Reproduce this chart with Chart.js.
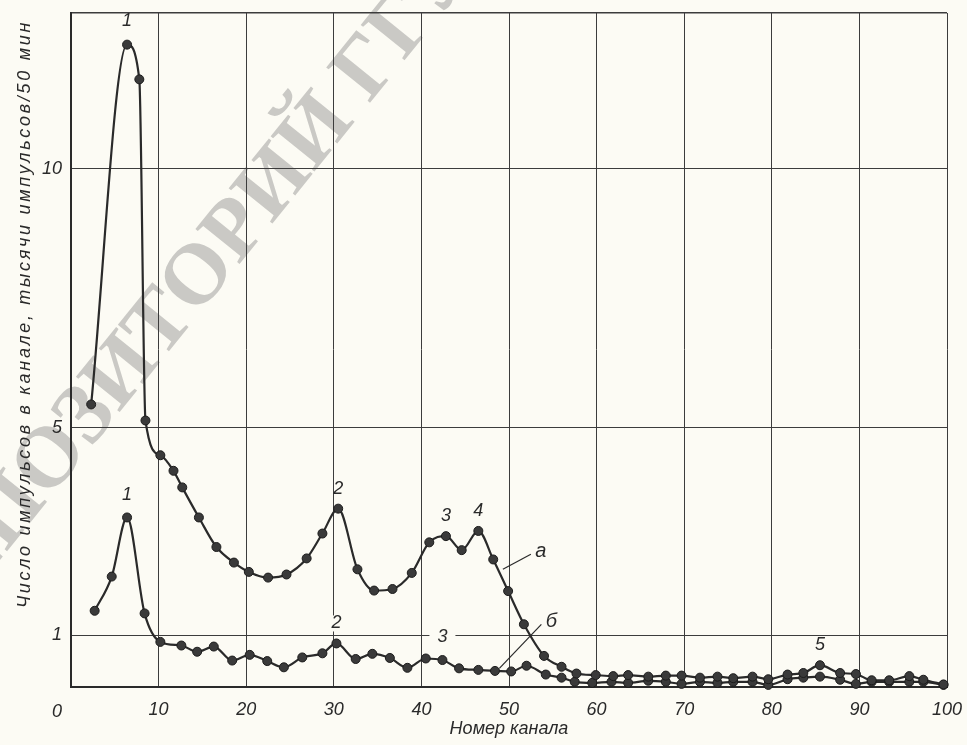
<!DOCTYPE html>
<html>
<head>
<meta charset="utf-8">
<script src="https://cdn.jsdelivr.net/npm/chart.js@4.4.1/dist/chart.umd.min.js"></script>
<style>
  html, body { margin: 0; padding: 0; background: #fcfbf4; }
  canvas { display: block; }
</style>
</head>
<body>
<canvas id="spectrum" width="967" height="745"></canvas>
<script>
// curve "а"
const channelsA = [2.3, 6.4, 7.8, 8.5, 10.2, 11.7, 12.7, 14.6, 16.6, 18.6, 20.3, 22.5, 24.6, 26.9, 28.7, 30.5,
  32.7, 34.6, 36.7, 38.9, 40.9, 42.8, 44.6, 46.5, 48.2, 49.9, 51.7, 54.0, 56.0, 57.7, 59.9, 61.9, 63.6,
  65.9, 67.9, 69.7, 71.8, 73.8, 75.6, 77.8, 79.6, 81.8, 83.6, 85.5, 87.8, 89.6, 91.4, 93.4, 95.7, 97.3, 99.6];
const countsA = [5.45, 12.39, 11.72, 5.14, 4.47, 4.17, 3.85, 3.27, 2.70, 2.40, 2.22, 2.11, 2.17, 2.48, 2.96, 3.44,
  2.27, 1.86, 1.89, 2.20, 2.79, 2.91, 2.64, 3.01, 2.46, 1.85, 1.21, 0.60, 0.39, 0.26, 0.23, 0.21, 0.23,
  0.20, 0.22, 0.22, 0.18, 0.20, 0.17, 0.20, 0.15, 0.24, 0.27, 0.42, 0.27, 0.25, 0.13, 0.13, 0.21, 0.14, 0.05];

// curve "б"
const channelsB = [2.7, 4.65, 6.4, 8.4, 10.2, 12.6, 14.4, 16.3, 18.4, 20.4, 22.4, 24.3, 26.4, 28.7, 30.3, 32.5,
  34.4, 36.4, 38.4, 40.5, 42.4, 44.3, 46.5, 48.4, 50.25, 52.0, 54.2, 56.0, 57.5, 59.5, 61.7, 63.6, 65.9,
  67.9, 69.7, 71.8, 73.8, 75.6, 77.8, 79.6, 81.8, 83.6, 85.5, 87.8, 89.6, 91.4, 93.4, 95.7, 97.3, 99.6];
const countsB = [1.47, 2.13, 3.27, 1.42, 0.87, 0.80, 0.68, 0.78, 0.51, 0.62, 0.50, 0.38, 0.57, 0.65, 0.84, 0.54,
  0.64, 0.56, 0.37, 0.55, 0.52, 0.36, 0.33, 0.31, 0.30, 0.41, 0.24, 0.18, 0.10, 0.08, 0.10, 0.08, 0.12,
  0.10, 0.06, 0.10, 0.08, 0.10, 0.10, 0.04, 0.15, 0.18, 0.20, 0.14, 0.06, 0.10, 0.10, 0.10, 0.10, 0.04];

const xTicks = [0, 10, 20, 30, 40, 50, 60, 70, 80, 90, 100];
const yTicks = [0, 1, 5, 10, 13];
const yTickLabels = { 1: '1', 5: '5', 10: '10' };

// numbered peaks: which curve, which point
const peakLabels = [
  { series: 'a', index: 1, text: '1', lift: 24 },
  { series: 'a', index: 15, text: '2' },
  { series: 'a', index: 21, text: '3' },
  { series: 'a', index: 23, text: '4' },
  { series: 'a', index: 43, text: '5', gap: true },
  { series: 'b', index: 2, text: '1', lift: 22 },
  { series: 'b', index: 14, text: '2', gap: true },
  { series: 'b', index: 20, text: '3', gap: true, lift: 23 }
];
const curveNames = [
  { text: 'а', x: 49.3, y: 2.27, dx: 28, dy: -15 },
  { text: 'б', x: 48.9, y: 0.36, dx: 42, dy: -44 }
];

const yTitle = 'Число импульсов в канале, тысячи импульсов/50 мин';
const xTitle = 'Номер канала';
const watermark = 'РЕПОЗИТОРИЙ ГГУ';

const PAPER = '#fcfbf4';
const INK = '#2a2a2a';
const GRID = '#3c3c3c';
const FONT = "'Liberation Sans', Arial, sans-serif";

const pts = (xs, ys) => xs.map((c, i) => ({ x: c, y: ys[i] }));
const series = { a: [channelsA, countsA], b: [channelsB, countsB] };

const ink = {
  id: 'ink',
  beforeDraw(chart) {
    const { ctx, width, height } = chart;
    ctx.save();
    ctx.fillStyle = PAPER;
    ctx.fillRect(0, 0, width, height);
    ctx.translate(190, 290);
    ctx.rotate(-51 * Math.PI / 180);
    ctx.font = 'bold 86px "Liberation Serif", serif';
    ctx.fillStyle = 'rgba(120,120,120,0.38)';
    ctx.textAlign = 'center';
    ctx.textBaseline = 'middle';
    ctx.fillText(watermark, 0, 0);
    ctx.restore();
  },
  beforeDatasetsDraw(chart) {
    const { ctx, scales: { x, y } } = chart;
    ctx.save();
    ctx.font = 'italic 18px ' + FONT;
    ctx.textAlign = 'center';
    ctx.textBaseline = 'middle';
    peakLabels.forEach(l => {
      const [xs, ys] = series[l.series];
      const px = x.getPixelForValue(xs[l.index]);
      const py = y.getPixelForValue(ys[l.index]) - (l.lift || 20);
      if (l.gap) {
        ctx.fillStyle = PAPER;
        ctx.fillRect(px - 13, py - 8, 26, 16);
      }
      ctx.fillStyle = INK;
      ctx.fillText(l.text, px, py);
    });
    ctx.strokeStyle = INK;
    ctx.lineWidth = 1.2;
    ctx.font = 'italic 20px ' + FONT;
    curveNames.forEach(n => {
      const px = x.getPixelForValue(n.x);
      const py = y.getPixelForValue(n.y);
      ctx.beginPath();
      ctx.moveTo(px, py);
      ctx.lineTo(px + n.dx, py + n.dy);
      ctx.stroke();
      ctx.fillStyle = INK;
      ctx.fillText(n.text, px + n.dx + 10, py + n.dy - 3);
    });
    ctx.restore();
  },
  afterDraw(chart) {
    const { ctx, scales: { x } } = chart;
    ctx.save();
    ctx.fillStyle = INK;
    ctx.font = 'italic 18px ' + FONT;
    ctx.textAlign = 'center';
    ctx.textBaseline = 'middle';
    ctx.fillText('0', x.getPixelForValue(0) - 14, 712);
    ctx.translate(25, 20);
    ctx.rotate(-Math.PI / 2);
    ctx.letterSpacing = '2.7px';
    ctx.textAlign = 'right';
    ctx.font = 'italic 18px ' + FONT;
    ctx.fillText(yTitle, 0, 0);
    ctx.restore();
  }
};

new Chart(document.getElementById('spectrum'), {
  type: 'line',
  plugins: [ink],
  data: {
    datasets: [
      {
        label: 'а',
        data: pts(channelsA, countsA),
        borderColor: INK,
        borderWidth: 2.2,
        pointRadius: 4.5,
        pointBackgroundColor: '#3a3a3a',
        pointBorderColor: '#1c1c1c',
        pointBorderWidth: 1,
        cubicInterpolationMode: 'monotone',
        clip: false
      },
      {
        label: 'б',
        data: pts(channelsB, countsB),
        borderColor: INK,
        borderWidth: 2.2,
        pointRadius: 4.5,
        pointBackgroundColor: '#3a3a3a',
        pointBorderColor: '#1c1c1c',
        pointBorderWidth: 1,
        cubicInterpolationMode: 'monotone',
        clip: false
      }
    ]
  },
  options: {
    responsive: false,
    animation: false,
    events: [],
    layout: { padding: { top: 13, right: 20, left: 0, bottom: 0 } },
    plugins: { legend: { display: false }, tooltip: { enabled: false } },
    scales: {
      x: {
        type: 'linear',
        min: 0,
        max: 100,
        afterBuildTicks: s => { s.ticks = xTicks.map(v => ({ value: v })); },
        afterFit: s => { s.height = 58; s.paddingLeft = 0; s.paddingRight = 0; },
        ticks: {
          autoSkip: false,
          maxRotation: 0,
          padding: 12,
          color: INK,
          font: { family: FONT, size: 18, style: 'italic' },
          callback: v => (v === 0 ? '' : v)
        },
        grid: { color: GRID, lineWidth: 1, drawTicks: false },
        border: { color: INK, width: 2 },
        title: {
          display: true,
          text: xTitle,
          color: INK,
          padding: { top: 0, bottom: 5 },
          font: { family: FONT, size: 18, style: 'italic' }
        }
      },
      y: {
        min: 0,
        max: 13,
        afterBuildTicks: s => { s.ticks = yTicks.map(v => ({ value: v })); },
        afterFit: s => { s.width = 71; s.paddingTop = 0; s.paddingBottom = 0; },
        ticks: {
          autoSkip: false,
          padding: 9,
          color: INK,
          font: { family: FONT, size: 18, style: 'italic' },
          callback: v => yTickLabels[v] || ''
        },
        grid: { color: GRID, lineWidth: c => (c.tick.value === 13 ? 1.5 : 1), drawTicks: false },
        border: { color: INK, width: 2 }
      }
    }
  }
});
</script>
</body>
</html>
